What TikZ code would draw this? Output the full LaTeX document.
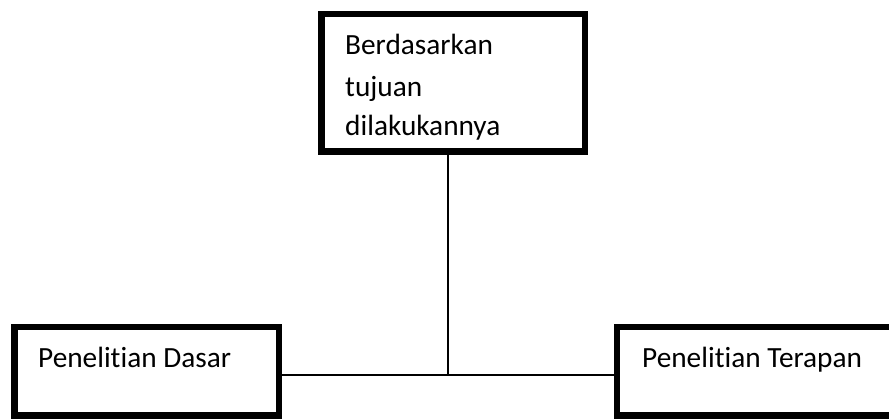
\documentclass[tikz,border=0pt]{standalone}
\usepackage{fontspec}
\setmainfont[Ligatures=NoCommon]{Carlito}
\begin{document}
\begin{tikzpicture}[x=1pt,y=-1pt,
  box/.style={draw=black,line width=6.5pt,rectangle,inner sep=0pt,fill=white},
  lbl/.style={anchor=base west,inner sep=0pt,font=\fontsize{29.3}{35}\selectfont},
  link/.style={draw=black,line width=1.6pt}]
  \useasboundingbox (0,0) rectangle (889,419);
  \clip (0,0) rectangle (889,419);
  % boxes
  \node[box,minimum width=263.5pt,minimum height=137.5pt] (top) at (453,83) {};
  \node[box,minimum width=264.5pt,minimum height=88.5pt] (left) at (146.5,371.5) {};
  \node[box,minimum width=277.75pt,minimum height=88.5pt] (right) at (756.1,371.5) {};
  % connectors
  \coordinate (j) at (448,375);
  \draw[link] (top.south -| j) -- (j);
  \draw[link] (left.east |- j) -- (right.west |- j);
  % texts
  \node[lbl] (t1) at (345,55) {Berdasarkan};
  \node[lbl] (t2) at (345,97) {tujuan};
  \node[lbl] (t3) at (345,136) {dilakukannya};
  \node[lbl] (tl) at (38,368) {Penelitian Dasar};
  \node[lbl] (tr) at (642,368) {Penelitian Terapan};
\end{tikzpicture}
\end{document}
